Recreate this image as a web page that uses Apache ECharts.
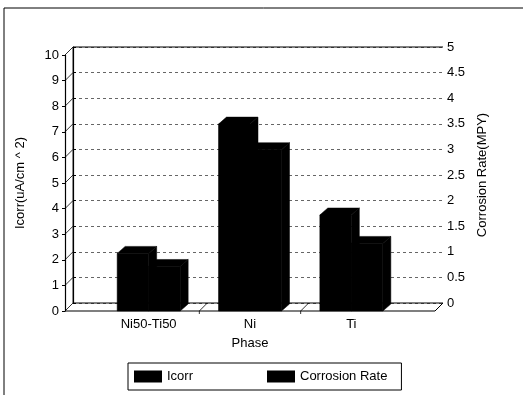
<!DOCTYPE html>
<html>
<head>
<meta charset="utf-8">
<style>
  html, body { margin: 0; padding: 0; background: #fff; }
  #chart { width: 523px; height: 395px; }
</style>
<script src="https://cdn.jsdelivr.net/npm/echarts@6/dist/echarts.min.js"></script>
</head>
<body>
<div id="chart"></div>
<script>
// Corrosion data per phase
const categories = ['Ni50-Ti50', 'Ni', 'Ti'];
const icorr = [2.25, 7.3, 3.75];          // uA/cm^2 (left axis)
const corrosionRate = [0.87, 3.15, 1.32]; // MPY (right axis)

const FONT = 'Arial, "Liberation Sans", sans-serif';
const DEPTH = 8;        // floor / wall depth offset in px
const AXIS_SHIFT = 33;  // floor extends this far beyond the category band
const BAR_W = 31.5;     // front-face width of one column
const BAR_DX = 8, BAR_DY = 7;

const chart = echarts.init(document.getElementById('chart'), null, { renderer: 'canvas' });

// 3D floor, wall edges and the short diagonals tying ticks to the back wall
function renderFrame(params, api) {
  const cs = params.coordSys;
  const x0 = cs.x - AXIS_SHIFT;
  const x1 = cs.x + cs.width + AXIS_SHIFT;
  const yb = cs.y + cs.height;
  const bandW = api.size([1, 0])[0];
  const line = (ax, ay, bx, by, w) => ({
    type: 'line',
    shape: { x1: ax, y1: ay, x2: bx, y2: by },
    style: { stroke: '#000', lineWidth: w || 1 }
  });
  const kids = [];
  kids.push(line(x0, yb, x1, yb, 1.2));
  kids.push(line(x0 + DEPTH, yb - DEPTH, x1 + DEPTH, yb - DEPTH));
  kids.push(line(x1, yb, x1 + DEPTH, yb - DEPTH));
  const yTop = api.coord([0, 10])[1];
  kids.push(line(x0 + DEPTH, yTop - DEPTH, x1 + DEPTH, yTop - DEPTH));
  kids.push(line(x0 + DEPTH, yb - DEPTH, x0 + DEPTH, yTop - DEPTH, 0.8));
  for (let v = 0; v <= 10; v++) {
    const yv = api.coord([0, v])[1];
    kids.push(line(x0, yv, x0 + DEPTH, yv - DEPTH, 0.8));
  }
  for (let i = 1; i < categories.length; i++) {
    const bx = cs.x + i * bandW;
    kids.push(line(bx, yb, bx + DEPTH, yb - DEPTH, 0.8));
    kids.push(line(bx, yb, bx, yb + 3, 0.8));
  }
  return { type: 'group', children: kids };
}

// One shaded prism per value: front face, top face, right side face
function makeBarRenderer(slot) {
  return function (params, api) {
    const cat = api.value(0);
    const val = api.value(1);
    const base = api.coord([cat, 0]);
    const top = api.coord([cat, val]);
    const L = base[0] - BAR_W + slot * BAR_W;
    const R = L + BAR_W;
    const yt = top[1], yb = base[1];
    const fill = { fill: '#000', stroke: '#000', lineWidth: 0.5 };
    return {
      type: 'group',
      children: [
        { type: 'polygon', shape: { points: [[R, yt], [R + BAR_DX, yt - BAR_DY], [R + BAR_DX, yb - BAR_DY], [R, yb]] }, style: fill },
        { type: 'polygon', shape: { points: [[L, yt], [L + BAR_DX, yt - BAR_DY], [R + BAR_DX, yt - BAR_DY], [R, yt]] }, style: fill },
        { type: 'rect', shape: { x: L, y: yt, width: BAR_W, height: yb - yt }, style: fill }
      ]
    };
  };
}

const option = {
  backgroundColor: '#fff',
  animation: false,
  textStyle: { fontFamily: FONT, color: '#000' },
  grid: [
    { left: 98, right: 121, top: 55, bottom: 84 },   // front plane
    { left: 73, right: 80, top: 47, bottom: 92 }     // back wall
  ],
  xAxis: [
    {
      gridIndex: 0, type: 'category', data: categories,
      name: 'Phase', nameLocation: 'middle', nameGap: 26,
      nameTextStyle: { fontSize: 13, color: '#000', fontFamily: FONT },
      axisLine: { show: false }, axisTick: { show: false },
      axisLabel: { fontSize: 13, color: '#000', margin: 7, fontFamily: FONT }
    },
    { gridIndex: 1, type: 'value', show: false }
  ],
  yAxis: [
    {
      gridIndex: 0, type: 'value', min: 0, max: 10, interval: 1,
      position: 'left', offset: AXIS_SHIFT,
      name: 'Icorr(uA/cm ^ 2)', nameLocation: 'middle', nameGap: 38, nameRotate: 90,
      nameTextStyle: { fontSize: 13, color: '#000', fontFamily: FONT },
      axisLine: { show: true, lineStyle: { color: '#000', width: 1.2 } },
      axisTick: { show: true, length: 3, lineStyle: { color: '#000' } },
      axisLabel: { fontSize: 13, color: '#000', margin: 6, fontFamily: FONT },
      splitLine: { show: false }
    },
    {
      gridIndex: 1, type: 'value', min: 0, max: 5, interval: 0.5,
      position: 'right',
      name: 'Corrosion Rate(MPY)', nameLocation: 'middle', nameGap: 32, nameRotate: 90,
      nameTextStyle: { fontSize: 13, color: '#000', fontFamily: FONT },
      axisLine: { show: true, lineStyle: { color: '#000', width: 1.2 } },
      axisTick: { show: true, length: 3, lineStyle: { color: '#000' } },
      axisLabel: { fontSize: 13, color: '#000', margin: 4, fontFamily: FONT },
      splitLine: { show: true, lineStyle: { color: '#666', width: 1, type: [3, 3] } }
    },
    { gridIndex: 0, type: 'value', min: 0, max: 5, position: 'right', show: false }
  ],
  legend: {
    left: 128, top: 363,
    data: [
      { name: 'Icorr', icon: 'rect' },
      { name: 'Corrosion Rate', icon: 'rect' }
    ],
    itemWidth: 28, itemHeight: 12, itemGap: 74,
    padding: [7, 14, 7, 6],
    borderColor: '#000', borderWidth: 1,
    textStyle: { fontSize: 13, color: '#000', fontFamily: FONT },
    selectedMode: false
  },
  graphic: [
    { type: 'line', shape: { x1: 4, y1: 8, x2: 4, y2: 395 }, style: { stroke: '#000', lineWidth: 1 } },
    { type: 'line', shape: { x1: 4, y1: 8, x2: 523, y2: 8 }, style: { stroke: '#000', lineWidth: 1 } }
  ],
  series: [
    {
      type: 'custom', name: 'frame', xAxisIndex: 0, yAxisIndex: 0,
      data: [[0, 0]], renderItem: renderFrame, silent: true, z: 1, clip: false
    },
    {
      type: 'custom', name: 'Icorr', xAxisIndex: 0, yAxisIndex: 0,
      data: icorr.map((v, i) => [i, v]), renderItem: makeBarRenderer(0),
      itemStyle: { color: '#000' }, z: 3, clip: false
    },
    {
      type: 'custom', name: 'Corrosion Rate', xAxisIndex: 0, yAxisIndex: 2,
      data: corrosionRate.map((v, i) => [i, v]), renderItem: makeBarRenderer(1),
      itemStyle: { color: '#000' }, z: 3, clip: false
    }
  ]
};

chart.setOption(option);
</script>
</body>
</html>
